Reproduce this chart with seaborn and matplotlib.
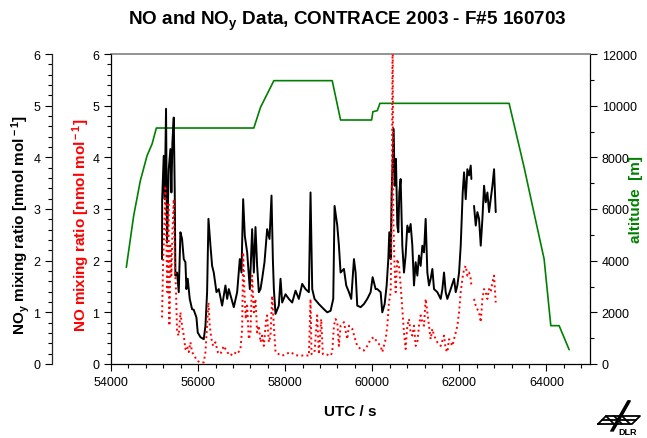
import numpy as np
import pandas as pd
import matplotlib.pyplot as plt
import seaborn as sns
from matplotlib.ticker import MultipleLocator
from matplotlib.lines import Line2D

# altitude track
alt_t = [54352, 54521, 54674, 54828, 54943, 55042, 57280, 57433, 57740, 59080, 59272,
         59985, 60015, 60115, 60176, 63142, 63487, 63678, 63946, 64100, 64291, 64521]
alt_m = [3742, 5742, 7097, 8064, 8516, 9135, 9135, 9935, 10968, 10968, 9445,
         9445, 9768, 9806, 10090, 10090, 7613, 6129, 4065, 1484, 1484, 555]

# NOy, two pieces (gap near 62300 s)
noy_t1 = [55172, 55175, 55211, 55234, 55264, 55287, 55326, 55364, 55387, 55410, 55441, 55464,
          55479, 55517, 55556, 55594, 55632, 55671, 55709, 55732, 55762, 55808, 55862, 55900,
          55962, 55992, 56054, 56130, 56169, 56207, 56238, 56284, 56322, 56360, 56422, 56475,
          56552, 56628, 56667, 56705, 56820, 56897, 56958, 56996, 57035, 57073, 57127, 57188,
          57241, 57280, 57318, 57356, 57395, 57433, 57471, 57525, 57586, 57640, 57686, 57717,
          57740, 57778, 57854, 57893, 57931, 58008, 58084, 58161, 58238, 58314, 58391, 58467,
          58544, 58582, 58621, 58674, 58774, 58890, 58966, 59043, 59104, 59134, 59196, 59234,
          59272, 59349, 59402, 59464, 59517, 59579, 59617, 59655, 59732, 59808, 59885, 59962,
          60008, 60077, 60115, 60192, 60230, 60284, 60330, 60368, 60391, 60422, 60445, 60468,
          60491, 60514, 60544, 60575, 60598, 60621, 60651, 60690, 60728, 60766, 60805, 60843,
          60881, 60920, 60958, 60996, 61035, 61073, 61111, 61150, 61188, 61226, 61265, 61303,
          61341, 61380, 61418, 61495, 61571, 61610, 61648, 61686, 61724, 61801, 61878, 61916,
          61954, 61993, 62031, 62054, 62077, 62108, 62146, 62184, 62223, 62261, 62276]
noy_v1 = [2.03, 3.19, 4.03, 3.19, 4.94, 2.35, 3.77, 4.16, 3.32, 4.29, 4.77, 3.32,
          1.71, 1.77, 1.39, 2.55, 2.42, 2.03, 1.97, 1.45, 1.65, 1.26, 1.06, 1.05,
          0.90, 0.61, 0.52, 0.48, 0.74, 1.39, 2.81, 2.29, 1.90, 1.77, 1.39, 1.45,
          1.13, 1.52, 1.26, 1.45, 1.10, 1.39, 2.03, 1.77, 3.19, 2.48, 2.16, 1.45,
          2.61, 1.77, 2.65, 1.90, 1.39, 1.45, 1.65, 1.97, 2.61, 2.42, 3.26, 2.03,
          1.45, 0.97, 1.13, 1.65, 1.19, 1.35, 1.26, 1.19, 1.42, 1.26, 1.55, 1.45,
          1.39, 3.32, 1.45, 1.26, 1.16, 1.06, 1.00, 1.03, 1.26, 3.06, 2.68, 2.29,
          1.77, 1.84, 1.52, 1.39, 1.26, 2.03, 1.77, 1.13, 1.10, 1.16, 1.26, 1.39,
          1.68, 1.45, 1.45, 1.39, 1.00, 1.16, 1.52, 2.03, 2.55, 2.03, 3.32, 3.97,
          4.55, 3.45, 3.97, 2.68, 2.55, 3.32, 3.58, 2.29, 1.77, 2.10, 2.68, 2.55,
          2.71, 2.29, 1.52, 1.97, 1.71, 2.10, 1.90, 2.29, 2.16, 2.81, 1.77, 1.52,
          1.65, 1.84, 1.45, 1.39, 1.26, 1.45, 1.77, 1.39, 1.26, 1.45, 1.65, 1.39,
          1.52, 1.77, 2.29, 2.81, 3.32, 3.71, 3.19, 3.77, 3.65, 3.84, 3.58]
noy_t2 = [62337, 62376, 62414, 62452, 62491, 62529, 62567, 62605, 62644, 62682, 62720,
          62759, 62797, 62835]
noy_v2 = [3.06, 2.68, 2.94, 2.81, 2.29, 2.81, 3.45, 3.13, 3.32, 2.94, 3.19,
          3.45, 3.77, 2.94]

# NO, two pieces
no_t1 = [55172, 55195, 55226, 55249, 55272, 55295, 55318, 55341, 55364, 55387, 55410, 55441,
         55464, 55494, 55517, 55556, 55594, 55632, 55671, 55709, 55747, 55786, 55824, 55862,
         55916, 55977, 56054, 56130, 56169, 56207, 56238, 56268, 56307, 56345, 56399, 56452,
         56513, 56590, 56667, 56743, 56820, 56897, 56973, 57012, 57035, 57065, 57096, 57127,
         57165, 57203, 57241, 57280, 57318, 57356, 57395, 57433, 57471, 57510, 57563, 57586,
         57625, 57663, 57701, 57740, 57778, 57854, 57931, 58008, 58123, 58238, 58353, 58467,
         58544, 58582, 58605, 58674, 58735, 58774, 58827, 58866, 58928, 59043, 59081, 59119,
         59157, 59196, 59234, 59272, 59349, 59425, 59464, 59540, 59617, 59655, 59732, 59808,
         59885, 59962, 60038, 60115, 60192, 60230, 60307, 60345, 60383, 60422, 60445, 60468,
         60483, 60506, 60537, 60575, 60613, 60651, 60690, 60728, 60766, 60805, 60843, 60881,
         60920, 60958, 60996, 61035, 61073, 61111, 61150, 61188, 61226, 61265, 61303, 61341,
         61380, 61418, 61495, 61571, 61648, 61686, 61724, 61763, 61840, 61916, 61954, 61993,
         62031, 62069, 62108, 62146, 62184, 62223, 62261, 62276]
no_v1 = [0.90, 1.90, 2.68, 3.45, 2.29, 1.39, 3.13, 0.74, 2.29, 1.71, 2.55, 3.19,
         2.03, 1.39, 0.61, 0.55, 1.00, 0.74, 0.55, 0.29, 0.35, 0.23, 0.42, 0.23,
         0.16, 0.06, 0.03, 0.03, 0.23, 0.74, 1.19, 0.74, 0.48, 0.35, 0.42, 0.23,
         0.19, 0.35, 0.23, 0.16, 0.23, 0.19, 0.29, 0.68, 2.16, 1.39, 0.87, 1.13,
         0.48, 0.61, 1.71, 1.00, 1.26, 0.61, 0.74, 0.42, 0.55, 0.35, 0.87, 0.94,
         0.42, 0.55, 1.32, 0.74, 0.23, 0.19, 0.16, 0.19, 0.23, 0.17, 0.16, 0.17,
         0.16, 1.26, 0.19, 0.23, 0.94, 0.19, 0.87, 0.19, 0.19, 0.16, 0.23, 0.74,
         0.87, 0.81, 0.35, 0.74, 0.81, 0.48, 0.74, 0.68, 0.45, 0.35, 0.29, 0.26,
         0.35, 0.48, 0.52, 0.42, 0.35, 0.23, 0.48, 0.74, 1.19, 1.39, 2.68, 6.50,
         2.81, 2.03, 1.39, 2.03, 1.90, 1.52, 1.06, 0.61, 0.29, 0.74, 0.87, 0.61,
         0.55, 0.74, 0.35, 0.42, 0.74, 0.94, 0.81, 0.74, 1.26, 1.00, 0.74, 0.48,
         0.68, 0.55, 0.42, 0.35, 0.55, 0.29, 0.23, 0.48, 0.35, 0.61, 0.74, 1.00,
         1.39, 1.65, 1.84, 1.90, 1.71, 1.77, 1.65, 1.52]
no_t2 = [62337, 62376, 62414, 62452, 62491, 62529, 62567, 62605, 62644, 62682, 62720,
         62759, 62797, 62835]
no_v2 = [1.26, 1.13, 1.06, 1.00, 0.81, 1.26, 1.45, 1.39, 1.26, 1.45, 1.39,
         1.58, 1.71, 1.19]

noy = pd.DataFrame({'t': noy_t1 + noy_t2, 'v': noy_v1 + noy_v2,
                    'seg': [1] * len(noy_t1) + [2] * len(noy_t2)})
no = pd.DataFrame({'t': no_t1 + no_t2, 'v': no_v1 + no_v2,
                   'seg': [1] * len(no_t1) + [2] * len(no_t2)})

sns.set_style('ticks')
plt.rcParams['font.family'] = ['Liberation Sans', 'DejaVu Sans']
plt.rcParams['mathtext.fontset'] = 'custom'
plt.rcParams['mathtext.rm'] = 'Liberation Sans:bold'
plt.rcParams['mathtext.it'] = 'Liberation Sans:bold'
plt.rcParams['mathtext.bf'] = 'Liberation Sans:bold'
for k in ['text.color', 'axes.labelcolor', 'xtick.color', 'ytick.color']:
    plt.rcParams[k] = 'black'

W, H = 647, 439
fig = plt.figure(figsize=(W / 100, H / 100), dpi=100)
ax_alt = fig.add_axes([111 / W, 74 / H, 479 / W, 310 / H])
ax_noy = ax_alt.twinx()
ax_no = ax_alt.twinx()

sns.lineplot(x=alt_t, y=alt_m, ax=ax_alt, color='#008000', lw=1.2, sort=False, estimator=None)
sns.lineplot(data=noy, x='t', y='v', units='seg', estimator=None, sort=False,
             ax=ax_noy, color='black', lw=1.4, legend=False)
sns.lineplot(data=no, x='t', y='v', units='seg', estimator=None, sort=False,
             ax=ax_no, color='red', lw=1.4, linestyle=':', legend=False)

ax_alt.set_xlim(54000, 65000)
ax_alt.set_ylim(0, 12000)
ax_noy.set_ylim(0, 6)
ax_no.set_ylim(0, 6)

lab = dict(fontsize=11, fontweight='bold')
tk = dict(direction='out', labelsize=9, width=0.8)

# right: altitude
ax_alt.yaxis.tick_right()
ax_alt.yaxis.set_label_position('right')
ax_alt.yaxis.set_major_locator(MultipleLocator(2000))
ax_alt.yaxis.set_minor_locator(MultipleLocator(1000))
ax_alt.xaxis.set_major_locator(MultipleLocator(2000))
ax_alt.xaxis.set_minor_locator(MultipleLocator(400))
ax_alt.tick_params(which='major', length=5, **tk)
ax_alt.tick_params(which='minor', length=3, direction='out', width=0.8)
ax_alt.set_xlabel('UTC / s', labelpad=12, **lab)
ax_alt.set_ylabel('altitude  [m]', color='#008000', **lab)
ax_alt.yaxis.set_label_coords(1.081, 0.535)
for s in ['left', 'right', 'bottom']:
    ax_alt.spines[s].set_color('black')
    ax_alt.spines[s].set_linewidth(0.9)
ax_alt.spines['top'].set_color('#808080')
ax_alt.spines['top'].set_linewidth(1.2)

# inner left: NO
ax_no.yaxis.tick_left()
ax_no.yaxis.set_label_position('left')
ax_no.yaxis.set_major_locator(MultipleLocator(1))
ax_no.yaxis.set_minor_locator(MultipleLocator(0.2))
ax_no.tick_params(which='major', length=5, **tk)
ax_no.tick_params(which='minor', length=3, direction='out', width=0.8)
ax_no.set_ylabel(r'NO mixing ratio [nmol mol$^{\rm -1}$]', color='red', **lab)
ax_no.yaxis.set_label_coords(-0.040, 0.45)
for s in ax_no.spines.values():
    s.set_visible(False)

# outer left: NOy (spine 59 px left of the plot)
ax_noy.yaxis.tick_left()
ax_noy.yaxis.set_label_position('left')
ax_noy.yaxis.set_major_locator(MultipleLocator(1))
ax_noy.yaxis.set_minor_locator(MultipleLocator(0.2))
ax_noy.tick_params(which='major', length=5, **tk)
ax_noy.tick_params(which='minor', length=3, direction='out', width=0.8)
ax_noy.set_ylabel(r'NO$_{\rm y}$ mixing ratio [nmol mol$^{\rm -1}$]', color='black', **lab)
ax_noy.yaxis.set_label_coords(-0.165, 0.45)
for n, s in ax_noy.spines.items():
    s.set_visible(n == 'left')
ax_noy.spines['left'].set_position(('outward', 59 * 0.72))
ax_noy.spines['left'].set_linewidth(0.9)

fig.text(0.537, 1 - 21 / H, r'NO and NO$_{\rm y}$ Data, CONTRACE 2003 - F#5 160703',
         ha='center', va='center', fontsize=13.6, fontweight='bold')

# DLR logo
def px(x, y):
    return x / W, 1 - y / H

logo = [
    [(598, 425), (606, 417), (640, 417), (632, 425), (598, 425)],
    [(602, 421), (636, 421)],
    [(611, 432), (628, 402), (630, 402), (613, 432)],
    [(606, 417), (614, 425)], [(614, 417), (622, 425)], [(622, 417), (630, 425)],
]
for seg in logo:
    xs, ys = zip(*[px(a, b) for a, b in seg])
    fig.add_artist(Line2D(xs, ys, color='black', lw=1.3))
fig.text(*px(628, 433), 'DLR', fontsize=6.5, fontweight='bold', ha='center', va='center')

fig.savefig('out.png', dpi=100)
